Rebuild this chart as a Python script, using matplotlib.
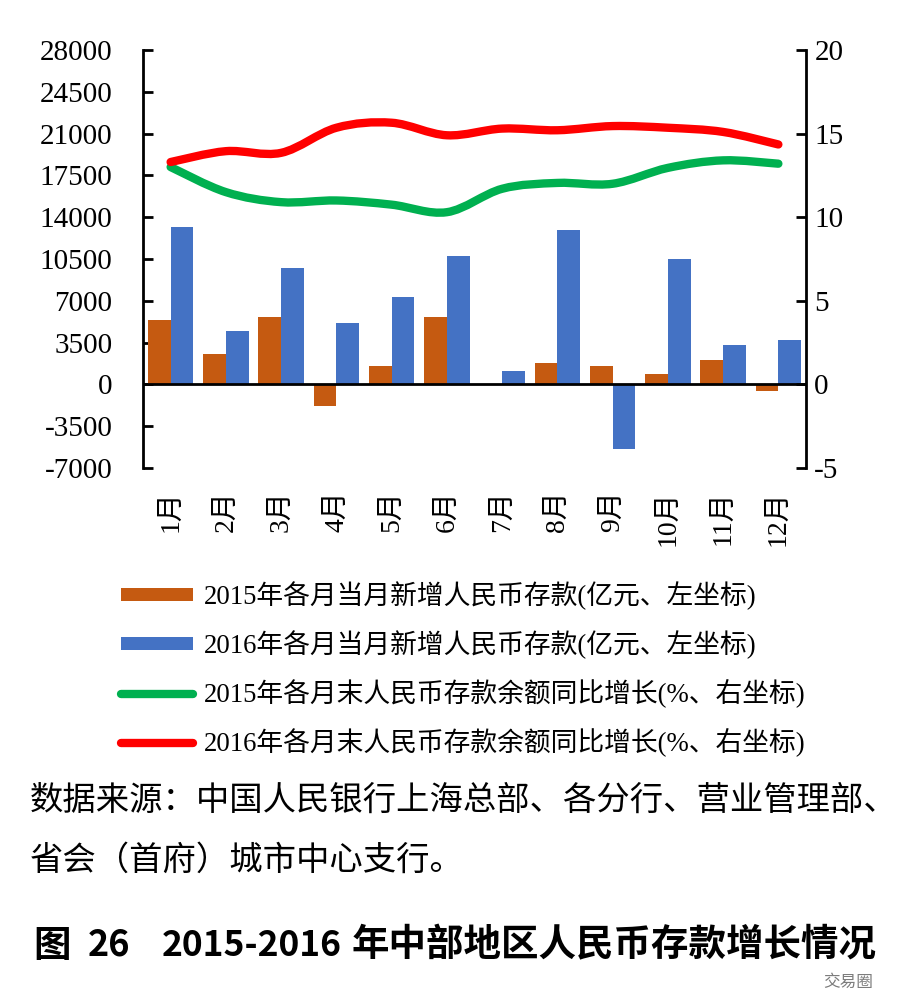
import numpy as np
import matplotlib
matplotlib.use("Agg")
import matplotlib.pyplot as plt
from matplotlib.path import Path
from matplotlib.patches import PathPatch, Patch
from matplotlib.lines import Line2D

plt.rcParams['font.family'] = ['Liberation Serif', 'Noto Sans CJK SC', 'DejaVu Sans']

months = ['1月', '2月', '3月', '4月', '5月', '6月', '7月', '8月', '9月', '10月', '11月', '12月']
dep_2015 = [5400, 2560, 5680, -1780, 1560, 5680, -50, 1810, 1560, 840, 2060, -560]
dep_2016 = [13150, 4460, 9780, 5180, 7350, 10750, 1090, 12920, -5400, 10500, 3260, 3730]
yoy_2015 = [13.0, 11.5, 10.9, 11.0, 10.75, 10.3, 11.7, 12.05, 12.0, 12.95, 13.4, 13.2]
yoy_2016 = [13.3, 13.95, 13.85, 15.35, 15.65, 14.9, 15.3, 15.2, 15.45, 15.35, 15.1, 14.35]
left_ticks = list(range(-7000, 28001, 3500))
right_ticks = [-5, 0, 5, 10, 15, 20]

labels = ['2015年各月当月新增人民币存款(亿元、左坐标)',
          '2016年各月当月新增人民币存款(亿元、左坐标)',
          '2015年各月末人民币存款余额同比增长(%、右坐标)',
          '2016年各月末人民币存款余额同比增长(%、右坐标)']

C_OR = '#C55A11'
C_BL = '#4472C4'
C_GR = '#00B050'
C_RD = '#FF0000'

fig = plt.figure(figsize=(9.01, 10.02), dpi=100)
ax = fig.add_axes([143/901, 1-468/1002, (806-143)/901, (468-50)/1002])
ax2 = ax.twinx()

x = np.arange(len(months))
w = 0.41
ax.bar(x - w/2, dep_2015, width=w, color=C_OR, zorder=2)
ax.bar(x + w/2, dep_2016, width=w, color=C_BL, zorder=2)
ax.axhline(0, color='black', lw=2.0, zorder=3)

ax.set_xlim(-0.5, len(months) - 0.5)
ax.set_ylim(-7000, 28000)
ax.set_yticks(left_ticks)
ax.set_yticklabels([str(t) for t in left_ticks])
ax.set_xticks(x)
ax.set_xticklabels(months, rotation=90, va='top', ha='center')
ax.tick_params(axis='x', length=0, pad=16, labelsize=20)
ax.tick_params(axis='y', direction='in', length=7, width=2, labelsize=21, pad=22)
ax.spines['top'].set_visible(False)
ax.spines['bottom'].set_visible(False)
ax.spines['right'].set_visible(False)
ax.spines['left'].set_linewidth(2)

ax2.set_ylim(-5, 20)
ax2.set_yticks(right_ticks)
ax2.set_yticklabels([str(t) for t in right_ticks])
ax2.tick_params(axis='y', direction='in', length=7, width=2, labelsize=21, pad=6)
ax2.spines['top'].set_visible(False)
ax2.spines['bottom'].set_visible(False)
ax2.spines['left'].set_visible(False)
ax2.spines['right'].set_linewidth(2)


def smooth_path(xs, ys):
    pts = np.column_stack([xs, ys]).astype(float)
    n = len(pts)
    verts = [pts[0]]
    codes = [Path.MOVETO]
    for i in range(n - 1):
        p0 = pts[i - 1] if i > 0 else pts[i]
        p1 = pts[i]
        p2 = pts[i + 1]
        p3 = pts[i + 2] if i + 2 < n else pts[i + 1]
        c1 = p1 + (p2 - p0) / 6.0
        c2 = p2 - (p3 - p1) / 6.0
        verts += [c1, c2, p2]
        codes += [Path.CURVE4] * 3
    return Path(verts, codes)


for ys, col in [(yoy_2015, C_GR), (yoy_2016, C_RD)]:
    patch = PathPatch(smooth_path(x, ys), facecolor='none', edgecolor=col,
                      lw=6, capstyle='round', joinstyle='round', zorder=4)
    ax2.add_patch(patch)

handles = [Patch(facecolor=C_OR, edgecolor='none'),
           Patch(facecolor=C_BL, edgecolor='none'),
           Line2D([], [], color=C_GR, lw=6, solid_capstyle='round'),
           Line2D([], [], color=C_RD, lw=6, solid_capstyle='round')]
fig.legend(handles, labels, loc='upper left', bbox_to_anchor=(121/901, 1-581/1002),
           frameon=False, fontsize=19.3, handlelength=2.7, handleheight=0.38,
           handletextpad=0.38, labelspacing=0.76, borderaxespad=0, borderpad=0)

fig.text(30/901, 1-800/1002, '数据来源：中国人民银行上海总部、各分行、营业管理部、',
         fontsize=24, va='center', ha='left', family=['Noto Sans CJK SC'])
fig.text(30/901, 1-860/1002, '省会（首府）城市中心支行。',
         fontsize=24, va='center', ha='left', family=['Noto Sans CJK SC'])

ty = 1 - 945/1002
tkw = dict(va='center', ha='left', fontweight='bold', family=['Noto Sans CJK SC'])
fig.text(33/901, ty, '图', fontsize=27, **tkw)
fig.text(88/901, ty, '26', fontsize=26, **tkw)
fig.text(162/901, ty, '2015-2016', fontsize=25.5, **tkw)
fig.text(352/901, ty, '年中部地区人民币存款增长情况', fontsize=27, **tkw)
fig.text(873/901, 1-982/1002, '交易圈', fontsize=12, va='center', ha='right',
         color='#666666', alpha=0.85, family=['Noto Sans CJK SC'])

fig.savefig('out.png', dpi=100)
